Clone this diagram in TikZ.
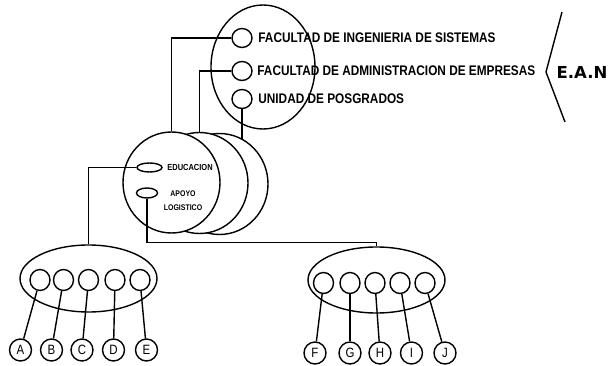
\documentclass[tikz,border=0pt]{standalone}
\usepackage{fontspec}
\setmainfont{Liberation Sans}
\newfontfamily\narrowfont[FakeStretch=0.85]{Liberation Sans}
\newfontfamily\eanfont{DejaVu Sans}
\usetikzlibrary{positioning, shapes.geometric}

\begin{document}
\begin{tikzpicture}[
		x=1pt, y=-1pt,
		line width=1.4pt,
		big node/.style={draw, ellipse, fill=white, inner sep=0pt},
		slot node/.style={draw, ellipse, inner sep=0pt, minimum width=20pt, minimum height=21pt},
		letter node/.style={draw, circle, inner sep=0pt, minimum size=22pt, font=\narrowfont\fontsize{13.5}{13.5}\selectfont},
		unit text/.style={font=\narrowfont\fontsize{13.9}{14}\selectfont\bfseries, inner sep=0pt},
		small text/.style={font=\narrowfont\fontsize{8.2}{14}\selectfont\bfseries, align=center, inner sep=0pt}
		]
		\useasboundingbox (0,0) rectangle (611,366);
		
		% ==========================================
		% 1. E.A.N AND ITS UNITS
		% ==========================================
		
		\node[big node, fill=none, minimum width=104pt, minimum height=124pt] (sede) at (263,67) {};
		\node[slot node, minimum height=19pt] (ing) at (242,38) {};
		\node[slot node, minimum height=19pt] (adm) at (242,71) {};
		\node[slot node, minimum height=19pt] (pos) at (242,99) {};
		
		% Names of the units
		\node[unit text, right=5pt of ing] (ing text) {FACULTAD DE INGENIERIA DE SISTEMAS};
		\node[unit text, right=4pt of adm] (adm text) {FACULTAD DE ADMINISTRACION DE EMPRESAS};
		\node[unit text, right=5pt of pos] (pos text) {UNIDAD DE POSGRADOS};
		
		% Brace and institution
		\node[font=\eanfont\bfseries\fontsize{16.5}{17}\selectfont, inner sep=0pt] (ean) at (582,72) {E.A.N};
		\draw (562,12) -- (546,72) -- (565,122);
		
		% ==========================================
		% 2. STACK OF SERVICES
		% ==========================================
		
		\node[big node, minimum width=97pt, minimum height=101pt] (back) at (219.5,184) {};
		\node[big node, minimum width=97pt, minimum height=101pt] (middle) at (199.5,183) {};
		\node[big node, minimum width=97pt, minimum height=101pt] (front) at (171.5,182.5) {};
		\node[slot node, minimum width=25pt, minimum height=9pt] (edu) at (149.5,167.5) {};
		\node[slot node, minimum width=21pt, minimum height=10pt] (apoyo) at (147,193) {};
		\node[small text, font=\narrowfont\fontsize{8.8}{9}\selectfont\bfseries, right=4pt of edu] (edu text) {EDUCACION};
		\node[small text] (apoyo text) at (183,201) {APOYO\\LOGISTICO};
		
		% Units to the stack
		\draw (ing.west) -| (front.north);
		\draw (adm.west) -| (middle.north);
		\draw (pos.south) -- (pos.south |- back.62);
		
		% ==========================================
		% 3. GROUPS A-E AND F-J
		% ==========================================
		
		\node[big node, fill=none, minimum width=137pt, minimum height=67pt] (grupo a) at (88.5,278.5) {};
		\node[slot node] (a1) at (40,280) {};
		\node[slot node] (a2) at (63.5,280) {};
		\node[slot node] (a3) at (88.5,280) {};
		\node[slot node] (a4) at (115,280) {};
		\node[slot node] (a5) at (140,280) {};
		\node[letter node] (A) at (20.5,350) {A};
		\node[letter node] (B) at (51.5,350) {B};
		\node[letter node] (C) at (82,350) {C};
		\node[letter node] (D) at (113.5,350) {D};
		\node[letter node] (E) at (146.5,350) {E};
		
		\node[big node, fill=none, minimum width=137pt, minimum height=66pt] (grupo b) at (376.5,280) {};
		\node[slot node] (b1) at (323.5,283) {};
		\node[slot node] (b2) at (350,283) {};
		\node[slot node] (b3) at (375,283) {};
		\node[slot node] (b4) at (400,283) {};
		\node[slot node] (b5) at (425,283) {};
		\node[letter node] (F) at (315,353) {F};
		\node[letter node] (G) at (350,353) {G};
		\node[letter node] (H) at (380,353) {H};
		\node[letter node] (I) at (411.5,353) {I};
		\node[letter node] (J) at (445,353) {J};
		
		% Services to the groups
		\draw (edu.west) -| (grupo a.north);
		\draw (apoyo.south) -- ++(0,44) -| (grupo b.north);
		
		% Slots to letters
		\draw (a1) -- (A);
		\draw (a2) -- (B);
		\draw (a3) -- (C);
		\draw (a4) -- (D);
		\draw (a5) -- (E);
		\draw (b1) -- (F);
		\draw (b2) -- (G);
		\draw (b3) -- (H);
		\draw (b4) -- (I);
		\draw (b5) -- (J);
		
	\end{tikzpicture}
\end{document}
